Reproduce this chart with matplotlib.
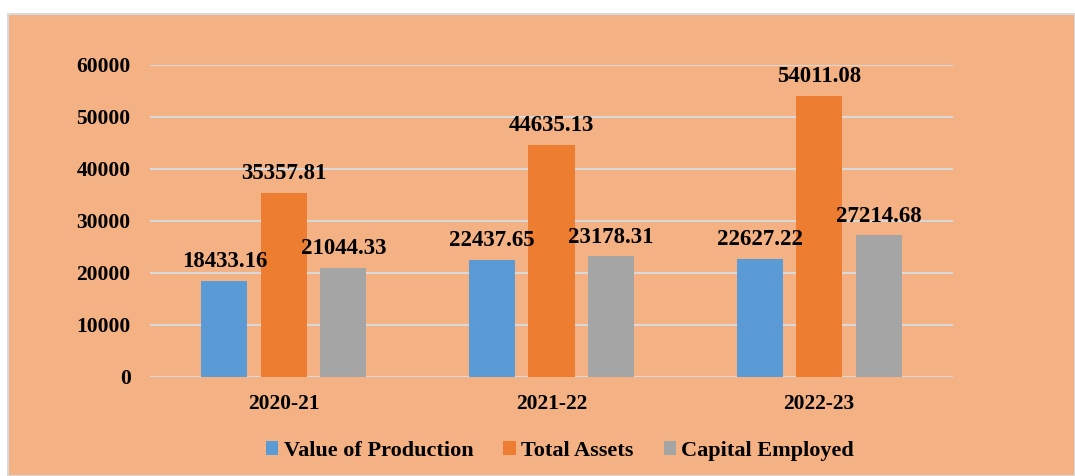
import numpy as np
import matplotlib.pyplot as plt
from matplotlib.patches import Rectangle

# data
years = ['2020-21', '2021-22', '2022-23']
value_of_production = [18433.16, 22437.65, 22627.22]
total_assets = [35357.81, 44635.13, 54011.08]
capital_employed = [21044.33, 23178.31, 27214.68]

series_names = ['Value of Production', 'Total Assets', 'Capital Employed']
colors = ['#5B9BD5', '#ED7D31', '#A5A5A5']
bg = '#F4B183'

plt.rcParams['font.family'] = ['Liberation Serif', 'DejaVu Serif']
plt.rcParams['font.weight'] = 'bold'

fig = plt.figure(figsize=(10.75, 4.76), dpi=100)
fig.patch.set_facecolor('white')
# chart area background with thin border
fig.patches.append(Rectangle((8 / 1075, 0), 1 - 8 / 1075, 1 - 14 / 476,
                             transform=fig.transFigure, facecolor=bg,
                             edgecolor='#D9D9D9', linewidth=1.5, zorder=-5))

ax = fig.add_axes([150 / 1075, 1 - 377 / 476, 803 / 1075, 312 / 476])
ax.set_facecolor('none')

x = np.arange(len(years))
width = 0.172
offset = 0.222
for i, (vals, name, c) in enumerate(zip([value_of_production, total_assets, capital_employed],
                                        series_names, colors)):
    pos = x + (i - 1) * offset
    ax.bar(pos, vals, width, color=c, label=name, zorder=3)
    for px, v in zip(pos, vals):
        ax.annotate(f'{v:.2f}', (px, v), xytext=(0, 14), textcoords='offset points',
                    ha='center', va='center', fontsize=16.5, fontweight='bold', zorder=4)

ax.set_xlim(-0.5, 2.5)
ax.set_ylim(0, 60000)
ax.set_yticks(np.arange(0, 60001, 10000))
ax.set_xticks(x)
ax.set_xticklabels(years)
ax.tick_params(axis='both', length=0, labelsize=15.5)
ax.tick_params(axis='y', pad=14)
ax.tick_params(axis='x', pad=12)
for lbl in ax.get_xticklabels() + ax.get_yticklabels():
    lbl.set_fontweight('bold')
ax.grid(axis='y', color='#D9D9D9', linewidth=1.5, zorder=0)
ax.set_axisbelow(True)
for s in ax.spines.values():
    s.set_visible(False)

leg = fig.legend(loc='center', bbox_to_anchor=(560 / 1075, 1 - 451 / 476), ncol=3,
                 frameon=False, fontsize=16, handlelength=0.55, handleheight=0.55,
                 handletextpad=0.25, columnspacing=1.35)
for t in leg.get_texts():
    t.set_fontweight('bold')

fig.savefig('out.png', dpi=100, facecolor=fig.get_facecolor())
